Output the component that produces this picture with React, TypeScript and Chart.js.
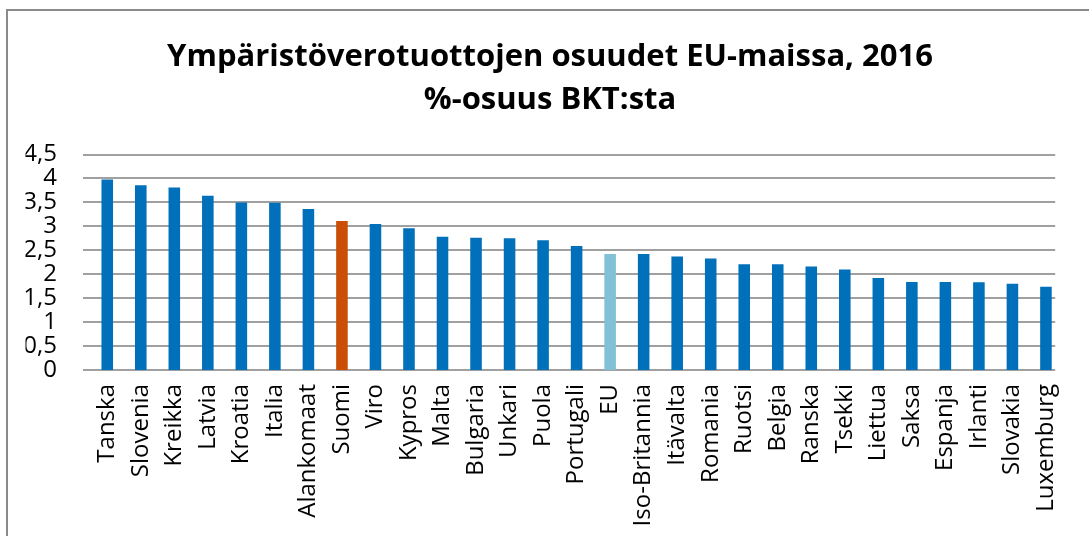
import React, { useEffect, useRef } from "react";
import { Chart, registerables } from "chart.js";

Chart.register(...registerables);

const categories = [
  "Tanska", "Slovenia", "Kreikka", "Latvia", "Kroatia", "Italia", "Alankomaat",
  "Suomi", "Viro", "Kypros", "Malta", "Bulgaria", "Unkari", "Puola", "Portugali",
  "EU", "Iso-Britannia", "Itävalta", "Romania", "Ruotsi", "Belgia", "Ranska",
  "Tsekki", "Liettua", "Saksa", "Espanja", "Irlanti", "Slovakia", "Luxemburg",
];

const values = [
  3.98, 3.86, 3.81, 3.64, 3.5, 3.49, 3.36,
  3.11, 3.05, 2.96, 2.78, 2.76, 2.75, 2.71, 2.59,
  2.42, 2.42, 2.37, 2.33, 2.21, 2.21, 2.16,
  2.1, 1.92, 1.84, 1.84, 1.83, 1.8, 1.74,
];

const titleLines = ["Ympäristöverotuottojen osuudet EU-maissa, 2016", "%-osuus BKT:sta"];

const BLUE = "#0070BA";
const ORANGE = "#CB4E07";
const LIGHT = "#80C1D8";

const barColors = categories.map((c) => (c === "Suomi" ? ORANGE : c === "EU" ? LIGHT : BLUE));

const framePlugin = {
  id: "frame",
  beforeDatasetsDraw(chart: any) {
    const ctx = chart.ctx;
    const y = chart.scales.y;
    const { left, right } = chart.chartArea;
    ctx.save();
    ctx.strokeStyle = "#a0a0a0";
    ctx.lineWidth = 2;
    y.ticks.forEach((t: any) => {
      const py = Math.round(y.getPixelForValue(t.value));
      ctx.beginPath();
      ctx.moveTo(left - 7.5, py);
      ctx.lineTo(right - 7.5, py);
      ctx.stroke();
    });
    ctx.restore();
  },
  afterDraw(chart: any) {
    const ctx = chart.ctx;
    ctx.save();
    ctx.strokeStyle = "#8a8a8a";
    ctx.lineWidth = 2;
    ctx.beginPath();
    ctx.moveTo(7, chart.height);
    ctx.lineTo(7, 10);
    ctx.lineTo(chart.width, 10);
    ctx.stroke();
    ctx.restore();
  },
};

export default function App() {
  const ref = useRef<HTMLCanvasElement>(null);
  useEffect(() => {
    if (!ref.current) return;
    const chart = new Chart(ref.current, {
      type: "bar",
      data: {
        labels: categories,
        datasets: [
          {
            data: values,
            backgroundColor: barColors,
            barPercentage: 0.345,
            categoryPercentage: 1,
          },
        ],
      },
      options: {
        animation: false,
        responsive: false,
        devicePixelRatio: 1,
        layout: { padding: { left: 25.5, right: 14.5, top: 0, bottom: 0 } },
        plugins: {
          legend: { display: false },
          tooltip: { enabled: false },
          title: {
            display: true,
            text: titleLines,
            color: "#000",
            font: { family: "'Open Sans'", size: 31, weight: "bold", lineHeight: 43 / 31 },
            padding: { top: 35.5, bottom: 33 },
          },
        },
        scales: {
          x: {
            grid: { display: false, drawTicks: false },
            border: { display: false },
            ticks: {
              color: "#000",
              font: { family: "'Open Sans'", size: 24 },
              minRotation: 90,
              maxRotation: 90,
              autoSkip: false,
              padding: 14,
            },
            afterFit: (s: any) => {
              s.height = 166;
            },
          },
          y: {
            min: 0,
            max: 4.5,
            grid: { display: false, drawTicks: false },
            border: { display: false },
            ticks: {
              stepSize: 0.5,
              autoSkip: false,
              color: "#000",
              font: { family: "'Open Sans'", size: 24 },
              padding: 33.5,
              callback: (v: any) => String(v).replace(".", ","),
            },
            afterFit: (s: any) => {
              s.width = 65;
            },
          },
        },
      },
      plugins: [framePlugin],
    });
    return () => chart.destroy();
  }, []);
  return (
    <div style={{ position: "absolute", left: 0, top: 0, width: 1089, height: 536, background: "#fff" }}>
      <canvas ref={ref} width={1089} height={536} />
    </div>
  );
}
